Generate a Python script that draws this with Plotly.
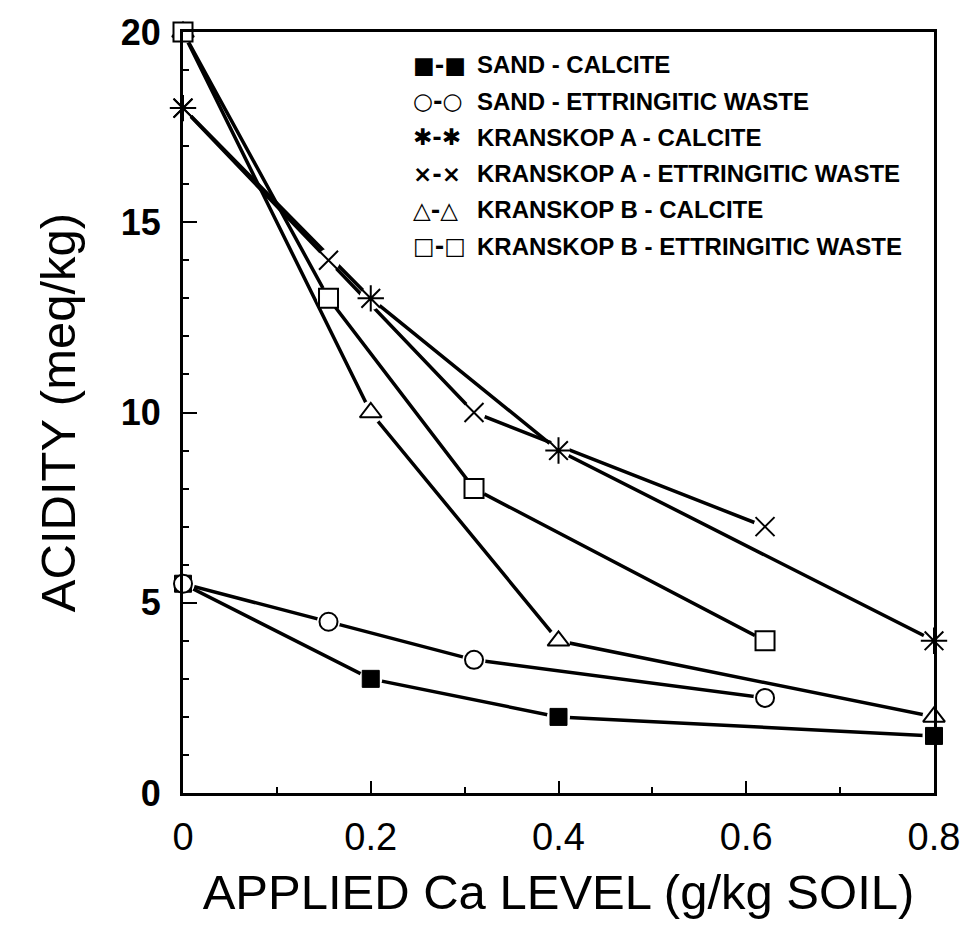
import plotly.graph_objects as go

# Applied Ca levels (g/kg soil) for the two liming materials
ca_calcite = [0, 0.2, 0.4, 0.8]
ca_waste = [0, 0.155, 0.31, 0.62]

# Acidity (meq/kg) for each soil / amendment combination
sand_calcite = [5.5, 3, 2, 1.5]
sand_waste = [5.5, 4.5, 3.5, 2.5]
kra_calcite = [18, 13, 9, 4]
kra_waste = [18, 14, 10, 7]
krb_calcite = [20, 10, 4, 2]
krb_waste = [20, 13, 8, 4]

series_names = [
    "SAND - CALCITE",
    "SAND - ETTRINGITIC WASTE",
    "KRANSKOP A - CALCITE",
    "KRANSKOP A - ETTRINGITIC WASTE",
    "KRANSKOP B - CALCITE",
    "KRANSKOP B - ETTRINGITIC WASTE",
]
legend_glyphs = ["■-■", "○-○", "✱-✱", "×-×", "△-△", "□-□"]

x_ticks = [0, 0.2, 0.4, 0.6, 0.8]
x_tick_text = ["0", "0.2", "0.4", "0.6", "0.8"]
y_ticks = [0, 5, 10, 15, 20]

series = [
    (ca_calcite, sand_calcite, dict(symbol="square", size=17, color="black", line=dict(color="black", width=1))),
    (ca_waste, sand_waste, dict(symbol="circle", size=18, color="white", line=dict(color="black", width=2))),
    (ca_calcite, kra_calcite, dict(symbol="asterisk", size=22, color="black", line=dict(color="black", width=2))),
    (ca_waste, kra_waste, dict(symbol="x-thin", size=19, color="black", line=dict(color="black", width=2))),
    (ca_calcite, krb_calcite, dict(symbol="triangle-up", size=19, color="white", line=dict(color="black", width=2))),
    (ca_waste, krb_waste, dict(symbol="square", size=19, color="white", line=dict(color="black", width=2))),
]

fig = go.Figure()

# connecting lines first
for (xs, ys, mk), name in zip(series, series_names):
    fig.add_trace(go.Scatter(x=xs, y=ys, mode="lines", name=name,
                             line=dict(color="black", width=3.5),
                             showlegend=False, cliponaxis=False, hoverinfo="skip"))

# white halos so that lines stop short of the symbols
for xs, ys, mk in series:
    fig.add_trace(go.Scatter(x=xs, y=ys, mode="markers",
                             marker=dict(symbol="circle", size=23, color="white"),
                             showlegend=False, cliponaxis=False, hoverinfo="skip"))

# symbols on top
for (xs, ys, mk), name in zip(series, series_names):
    fig.add_trace(go.Scatter(x=xs, y=ys, mode="markers", name=name, marker=mk,
                             showlegend=False, cliponaxis=False))

# legend drawn as text rows
L, R, T, B = 183, 32, 29, 145
W, H = 972, 938
pw, ph = W - L - R, H - T - B
row0, row_step = 62, 36.4
for i, (glyph, name) in enumerate(zip(legend_glyphs, series_names)):
    yp = (H - B - (row0 + i * row_step)) / ph
    fig.add_annotation(x=(413 - L) / pw, y=yp, xref="paper", yref="paper",
                       xanchor="left", yanchor="middle", showarrow=False,
                       text=glyph, font=dict(family="DejaVu Sans", size=23, color="black", weight="bold"))
    fig.add_annotation(x=(477 - L) / pw, y=yp, xref="paper", yref="paper",
                       xanchor="left", yanchor="middle", showarrow=False,
                       text=name, font=dict(family="Liberation Sans", size=24, color="black", weight="bold"))

fig.update_xaxes(
    range=[0, 0.8], tickvals=x_ticks, ticktext=x_tick_text,
    ticks="inside", ticklen=12, tickwidth=2, tickcolor="black",
    minor=dict(ticks="inside", dtick=0.1, ticklen=6, tickwidth=1.5, tickcolor="black"),
    showline=True, linewidth=3, linecolor="black", mirror=True,
    showgrid=False, zeroline=False, ticklabelstandoff=8,
    tickfont=dict(family="Liberation Sans", size=38, color="black"),
    title=dict(text="APPLIED Ca LEVEL (g/kg SOIL)", standoff=19,
               font=dict(family="Liberation Sans", size=49, color="black")),
)
fig.update_yaxes(
    range=[0, 20], tickvals=y_ticks,
    ticks="inside", ticklen=14, tickwidth=2, tickcolor="black",
    minor=dict(ticks="inside", dtick=1, ticklen=6, tickwidth=1.5, tickcolor="black"),
    showline=True, linewidth=3, linecolor="black", mirror=True,
    showgrid=False, zeroline=False, ticklabelstandoff=12,
    tickfont=dict(family="Liberation Sans", size=36, color="black", weight="bold"),
    title=dict(text="ACIDITY (meq/kg)", standoff=30,
               font=dict(family="Liberation Sans", size=49, color="black")),
)

fig.update_layout(
    width=W, height=H,
    margin=dict(l=L, r=R, t=T, b=B),
    paper_bgcolor="white", plot_bgcolor="white",
    showlegend=False,
)

fig.write_html("out.html")
